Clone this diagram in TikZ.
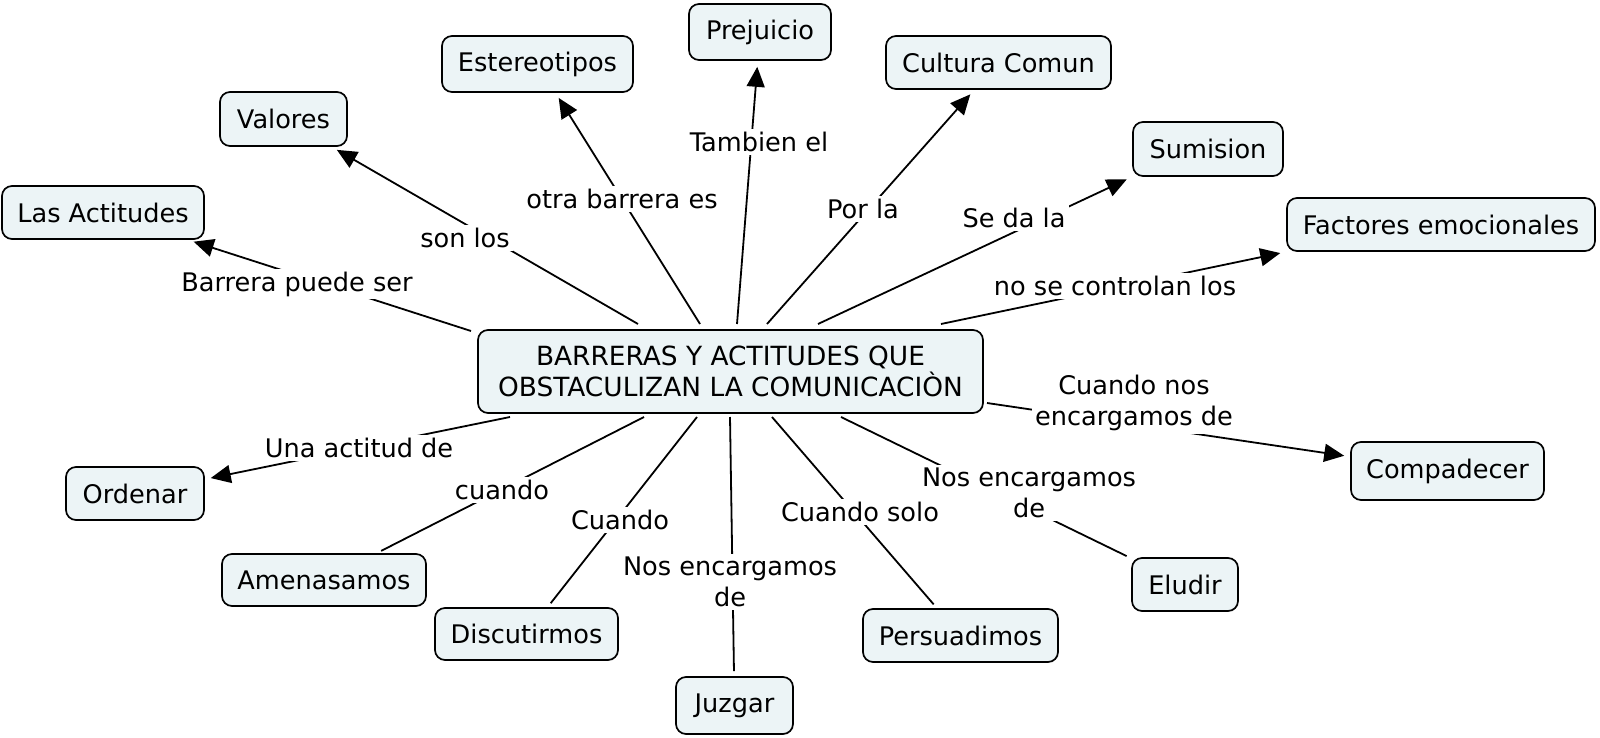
\documentclass[tikz,border=0pt]{standalone}
\usepackage{fontspec}
\setmainfont{DejaVu Sans}
\usetikzlibrary{arrows.meta}
\definecolor{boxfill}{RGB}{236,244,246}
\tikzset{
  box/.style={draw=black, line width=0.85pt, rounded corners=5pt, fill=boxfill,
    inner sep=0pt, align=center, font=\fontsize{12.8}{15.5}\selectfont},
  lbl/.style={fill=white, inner sep=1.5pt, align=center, font=\fontsize{12.8}{15.5}\selectfont},
  link/.style={line width=0.9pt, shorten >=2.5pt},
  arr/.style={line width=0.9pt, -{Triangle[length=10pt,width=9pt]}, shorten >=3pt},
}
\begin{document}
\begin{tikzpicture}[x=0.5pt,y=-0.5pt]
\useasboundingbox (0,0) rectangle (1600,738);
% concept boxes
\node[box, minimum width=252.5pt, minimum height=41.5pt, font=\fontsize{13.2}{15.5}\selectfont] (c) at (730.5,371.5) {BARRERAS Y ACTITUDES QUE\\OBSTACULIZAN LA COMUNICACIÒN};
\node[box, minimum width=101pt, minimum height=26.5pt] (las) at (103,212.5) {Las Actitudes};
\node[box, minimum width=63.5pt, minimum height=27pt] (val) at (283.5,119) {Valores};
\node[box, minimum width=95.5pt, minimum height=28pt] (est) at (537.5,64) {Estereotipos};
\node[box, minimum width=71pt, minimum height=28pt] (pre) at (760,32) {Prejuicio};
\node[box, minimum width=112.5pt, minimum height=26.5pt] (cul) at (998.5,62.5) {Cultura Comun};
\node[box, minimum width=75pt, minimum height=27pt] (sum) at (1208,149) {Sumision};
\node[box, minimum width=154pt, minimum height=26.5pt] (fac) at (1441,224.5) {Factores emocionales};
\node[box, minimum width=96.5pt, minimum height=29pt] (com) at (1447.5,471) {Compadecer};
\node[box, minimum width=53pt, minimum height=26.5pt] (elu) at (1185,584.5) {Eludir};
\node[box, minimum width=97.5pt, minimum height=26.5pt] (per) at (960.5,635.5) {Persuadimos};
\node[box, minimum width=58.5pt, minimum height=28.5pt] (juz) at (734.5,705.5) {Juzgar};
\node[box, minimum width=91.5pt, minimum height=26pt] (dis) at (526.5,634) {Discutirmos};
\node[box, minimum width=102pt, minimum height=26pt] (ame) at (324,580) {Amenasamos};
\node[box, minimum width=69pt, minimum height=26.5pt] (ord) at (135,493.5) {Ordenar};
% connector start points on the central concept
\coordinate (s1) at (471,331);
\coordinate (s2) at (638,324);
\coordinate (s3) at (700,324);
\coordinate (s4) at (737,324);
\coordinate (s5) at (767,324);
\coordinate (s6) at (818,324);
\coordinate (s7) at (941,324);
\coordinate (s8) at (987,403);
\coordinate (s9) at (510,417);
\coordinate (s10) at (644,417);
\coordinate (s11) at (697,417);
\coordinate (s12) at (730,417);
\coordinate (s13) at (772,417);
\coordinate (s14) at (841,417);
% connectors
\draw[arr] (s1) -- (las);
\draw[arr] (s2) -- (val);
\draw[arr] (s3) -- (est);
\draw[arr] (s4) -- (pre);
\draw[arr] (s5) -- (cul);
\draw[arr] (s6) -- (sum.south west);
\draw[arr] (s7) -- (fac.south west);
\draw[arr] (s8) -- (com);
\draw[arr] (s9) -- (ord);
\draw[link] (s10) -- (ame);
\draw[link] (s11) -- (dis);
\draw[link] (s12) -- (juz);
\draw[link] (s13) -- (per);
\draw[link] (s14) -- (elu);
% linking phrases
\node[lbl] (l1) at (297,284) {Barrera puede ser};
\node[lbl] (l2) at (465,238) {son los};
\node[lbl] (l3) at (622,199) {otra barrera es};
\node[lbl] (l4) at (759,142) {Tambien el};
\node[lbl] (l5) at (863,209) {Por la};
\node[lbl] (l6) at (1014,218) {Se da la};
\node[lbl] (l7) at (1115,286) {no se controlan los};
\node[lbl] (l8) at (1134,403) {Cuando nos\\encargamos de};
\node[lbl] (l9) at (359,448) {Una actitud de};
\node[lbl] (l10) at (502,490) {cuando};
\node[lbl] (l11) at (620,520) {Cuando};
\node[lbl] (l12) at (730,582) {Nos encargamos\\de};
\node[lbl] (l14) at (1029,493) {Nos encargamos\\de};
\node[lbl] (l13) at (860,512) {Cuando solo};
\end{tikzpicture}
\end{document}
